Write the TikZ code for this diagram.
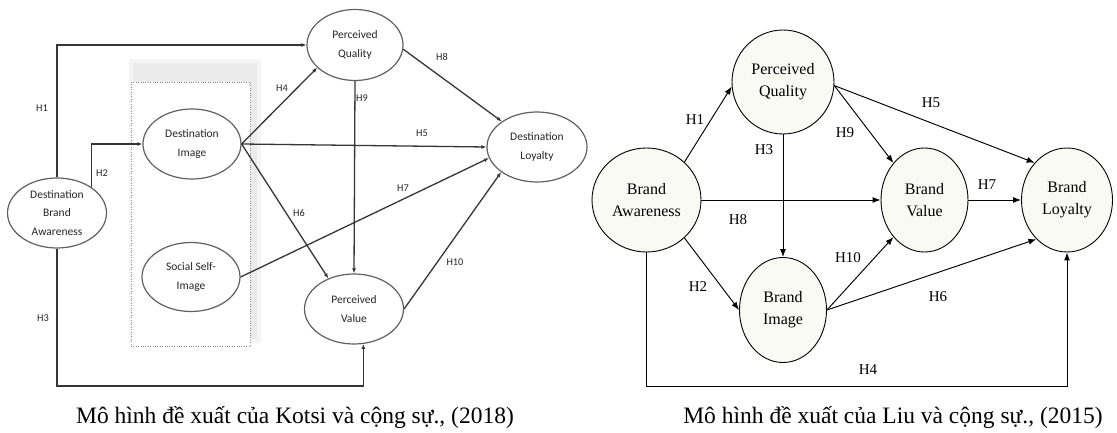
\documentclass[tikz,border=0pt]{standalone}
\usepackage{fontspec}
\setmainfont{Liberation Serif}
\newfontfamily\calib{Carlito}
\usetikzlibrary{shapes.geometric,arrows.meta}

\definecolor{lline}{HTML}{363636}
\definecolor{lring}{HTML}{606060}
\definecolor{ltext}{HTML}{262626}
\definecolor{rfill}{HTML}{FAFAF5}

\begin{document}
\begin{tikzpicture}[x=1pt,y=-1pt,
  kbox/.style={ellipse,draw=lring,line width=1.2pt,fill=white,inner sep=0pt,align=center,
    text=ltext,font=\calib\fontsize{11.5}{18.5}\selectfont},
  klab/.style={text=ltext,font=\calib\fontsize{10.3}{12}\selectfont,inner sep=0pt},
  karrow/.style={draw=lline,line width=1.3pt,-{Latex[length=5pt,width=4pt]}},
  lbox/.style={ellipse,draw=black,line width=0.9pt,fill=rfill,inner sep=0pt,align=center,
    font=\fontsize{16}{22}\selectfont},
  llab/.style={font=\fontsize{15}{17}\selectfont,inner sep=0pt},
  larrow/.style={draw=black,line width=0.95pt,-{Latex[length=8pt,width=6pt]}},
  capt/.style={font=\fontsize{23.5}{26}\selectfont,inner sep=0pt}
]
\useasboundingbox (0,0) rectangle (1117,433);
\fill[white] (0,0) rectangle (1117,433);

% ---------- Kotsi et al. (2018) ----------
% soft shadow behind the dotted group box
\fill[black!4] (129,59) rectangle (261,343);
\fill[black!8] (133,63) rectangle (257,339);
\draw[black!45,dotted,fill=white] (131,82) rectangle (250,346);

\node[kbox,minimum width=99pt,minimum height=70pt] (dba) at (57,213) {Destination\\Brand\\Awareness};
\node[kbox,minimum width=98pt,minimum height=70pt] (di) at (192,144) {Destination\\Image};
\node[kbox,minimum width=98pt,minimum height=69pt] (ssi) at (191,277) {Social Self-\\Image};
\node[kbox,minimum width=96pt,minimum height=71pt] (kpq) at (355,45) {Perceived\\Quality};
\node[kbox,minimum width=99pt,minimum height=70pt] (kpv) at (354,309) {Perceived\\Value};
\node[kbox,minimum width=100pt,minimum height=70pt] (dl) at (537,147) {Destination\\Loyalty};

\coordinate (kbase) at (0,386);
\draw[karrow] (dba.north) |- (kpq.west);
\draw[karrow] (dba.37) |- (di.west);
\draw[karrow] (dba.south) |- (kpv.-75 |- kbase) -- (kpv.-75);
\draw[karrow] (di.east) -- (kpq.211);
\draw[karrow] (di.east) -- (dl.west);
\draw[karrow] (di.east) -- (kpv.130);
\draw[karrow] (ssi.east) -- (dl.193);
\draw[karrow] (kpq.south) -- (kpv.north);
\draw[karrow] (kpq.-5) -- (dl.144);
\draw[karrow] (kpv.east) -- (dl.215);

\node[klab] (k1) at (42,108) {H1};
\node[klab] (k2) at (102,173) {H2};
\node[klab] (k3) at (43,318) {H3};
\node[klab] (k4) at (282,88) {H4};
\node[klab] (k5) at (422,133) {H5};
\node[klab] (k6) at (299,213) {H6};
\node[klab] (k7) at (403,188) {H7};
\node[klab] (k8) at (442,57) {H8};
\node[klab] (k9) at (362,98) {H9};
\node[klab] (k10) at (455,262) {H10};

\node[capt] (capk) at (295,418) {Mô hình đề xuất của Kotsi và cộng sự., (2018)};

% ---------- Liu et al. (2015) ----------
\node[lbox,minimum width=109pt,minimum height=104pt] (ba) at (646.5,200) {Brand\\Awareness};
\node[lbox,minimum width=102pt,minimum height=104pt] (pq) at (783,82) {Perceived\\Quality};
\node[lbox,minimum width=87pt,minimum height=104pt] (bv) at (924.5,200) {Brand\\Value};
\node[lbox,minimum width=91pt,minimum height=104pt] (bl) at (1067,200) {Brand\\Loyalty};
\node[lbox,minimum width=87pt,minimum height=105pt] (bi) at (783,310) {Brand\\Image};

\coordinate (lbase) at (0,386);
\draw[larrow] (ba.45) -- (pq.185);
\draw[larrow] (ba.-45) -- (bi.west);
\draw[larrow] (pq.south) -- (bi.north);
\draw[larrow] (ba.east) -- (bv.west);
\draw[larrow] (pq.-4) -- (bv.130);
\draw[larrow] (pq.-4) -- (bl.131);
\draw[larrow] (bv.east) -- (bl.west);
\draw[larrow] (bi.east) -- (bv.230);
\draw[larrow] (bi.east) -- (bl.232);
\draw[larrow] (ba.south) |- (bl.south |- lbase) -- (bl.south);

\node[llab] (r1) at (695,120) {H1};
\node[llab] (r2) at (698,287) {H2};
\node[llab] (r3) at (764,150) {H3};
\node[llab] (r4) at (868,370) {H4};
\node[llab] (r5) at (931,103) {H5};
\node[llab] (r6) at (938,297) {H6};
\node[llab] (r7) at (987,185) {H7};
\node[llab] (r8) at (738,220) {H8};
\node[llab] (r9) at (845,133) {H9};
\node[llab] (r10) at (848,258) {H10};

\node[capt] (capl) at (893,418) {Mô hình đề xuất của Liu và cộng sự., (2015)};
\end{tikzpicture}
\end{document}
